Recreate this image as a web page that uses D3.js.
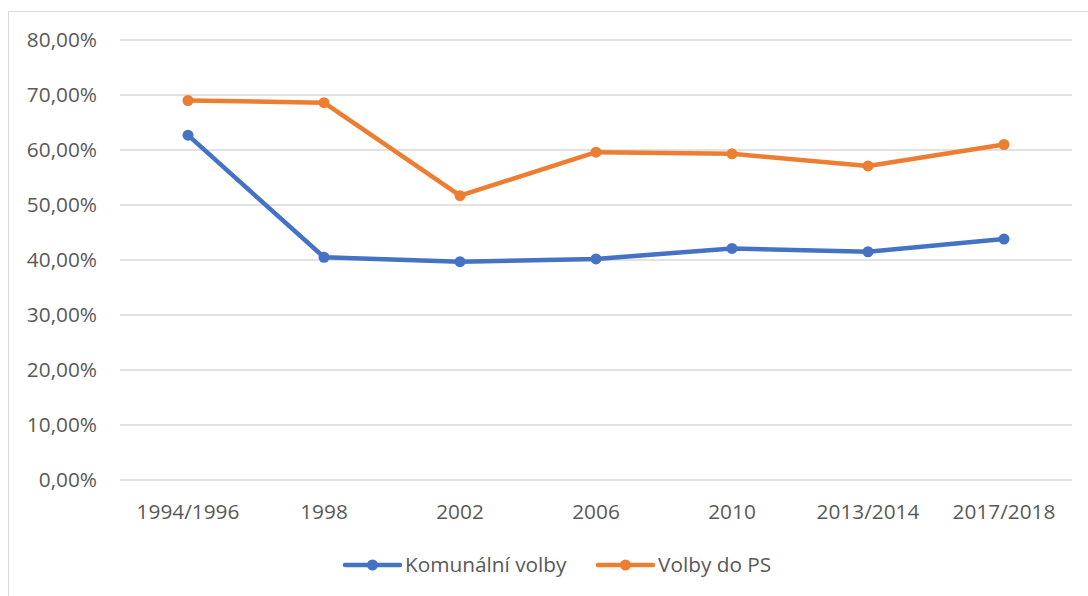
<!DOCTYPE html>
<html>
<head>
<meta charset="utf-8">
<script src="https://cdn.jsdelivr.net/npm/d3@7"></script>
<style>
  body { margin: 0; background: #fff; }
  text { font-family: "Open Sans", sans-serif; fill: #595959; }
</style>
</head>
<body>
<div id="chart"></div>
<script>
// data
let years = ["1994/1996", "1998", "2002", "2006", "2010", "2013/2014", "2017/2018"]
let komunalni = [62.7, 40.5, 39.7, 40.2, 42.1, 41.5, 43.8]
let volbyPS = [69.0, 68.6, 51.7, 59.6, 59.3, 57.1, 61.0]
let yTicks = [0, 10, 20, 30, 40, 50, 60, 70, 80]
let seriesNames = ["Komunální volby", "Volby do PS"]
let colors = ["#4472C4", "#ED7D31"]

let W = 1088, H = 596
let MARGIN = {LEFT: 120, RIGHT: 16, TOP: 40, BOTTOM: 116}
let WIDTH = W - MARGIN.LEFT - MARGIN.RIGHT
let HEIGHT = H - MARGIN.TOP - MARGIN.BOTTOM
let FONT = "20.8px"

let svg = d3.select("#chart").append("svg")
    .attr("width", W)
    .attr("height", H)

// chart border
svg.append("rect")
    .attr("x", 8.5).attr("y", 11.5)
    .attr("width", 1200).attr("height", 800)
    .attr("fill", "none")
    .attr("stroke", "#D9D9D9")
    .attr("stroke-width", 1)

let g = svg.append("g")
    .attr("transform", `translate(${MARGIN.LEFT}, ${MARGIN.TOP})`)

let x = d3.scaleBand().domain(years).range([0, WIDTH])
let y = d3.scaleLinear().domain([0, 80]).range([HEIGHT, 0])

// gridlines
g.selectAll(".grid").data(yTicks).enter().append("line")
    .attr("x1", 0).attr("x2", WIDTH)
    .attr("y1", d => y(d)).attr("y2", d => y(d))
    .attr("stroke", "#D9D9D9")
    .attr("stroke-width", 1.5)

// y labels
let fmt = d => d3.format(".2f")(d).replace(".", ",") + "%"
g.selectAll(".ylab").data(yTicks).enter().append("text")
    .attr("x", -23)
    .attr("y", d => y(d))
    .attr("dy", "0.35em")
    .attr("text-anchor", "end")
    .style("font-size", FONT)
    .text(fmt)

// x labels
g.selectAll(".xlab").data(years).enter().append("text")
    .attr("x", d => x(d) + x.bandwidth() / 2)
    .attr("y", HEIGHT + 32)
    .attr("dy", "0.35em")
    .attr("text-anchor", "middle")
    .style("font-size", FONT)
    .text(d => d)

let series = [komunalni, volbyPS]
let line = d3.line()
    .x((d, i) => x(years[i]) + x.bandwidth() / 2)
    .y(d => y(d))

series.forEach((vals, s) => {
    g.append("path")
        .attr("d", line(vals))
        .attr("fill", "none")
        .attr("stroke", colors[s])
        .attr("stroke-width", 4.5)
        .attr("stroke-linejoin", "round")
        .attr("stroke-linecap", "round")
    g.selectAll(".pt" + s).data(vals).enter().append("circle")
        .attr("cx", (d, i) => x(years[i]) + x.bandwidth() / 2)
        .attr("cy", d => y(d))
        .attr("r", 5.5)
        .attr("fill", colors[s])
})

// legend
let legX = [345, 598]
let legY = 565
seriesNames.forEach((name, s) => {
    let lg = svg.append("g").attr("transform", `translate(${legX[s]}, ${legY})`)
    lg.append("line")
        .attr("x1", 0).attr("x2", 55)
        .attr("stroke", colors[s])
        .attr("stroke-width", 4.5)
        .attr("stroke-linecap", "round")
    lg.append("circle").attr("cx", 27.5).attr("r", 5.5).attr("fill", colors[s])
    lg.append("text")
        .attr("x", 60)
        .attr("dy", "0.35em")
        .style("font-size", FONT)
        .text(name)
})
</script>
</body>
</html>
